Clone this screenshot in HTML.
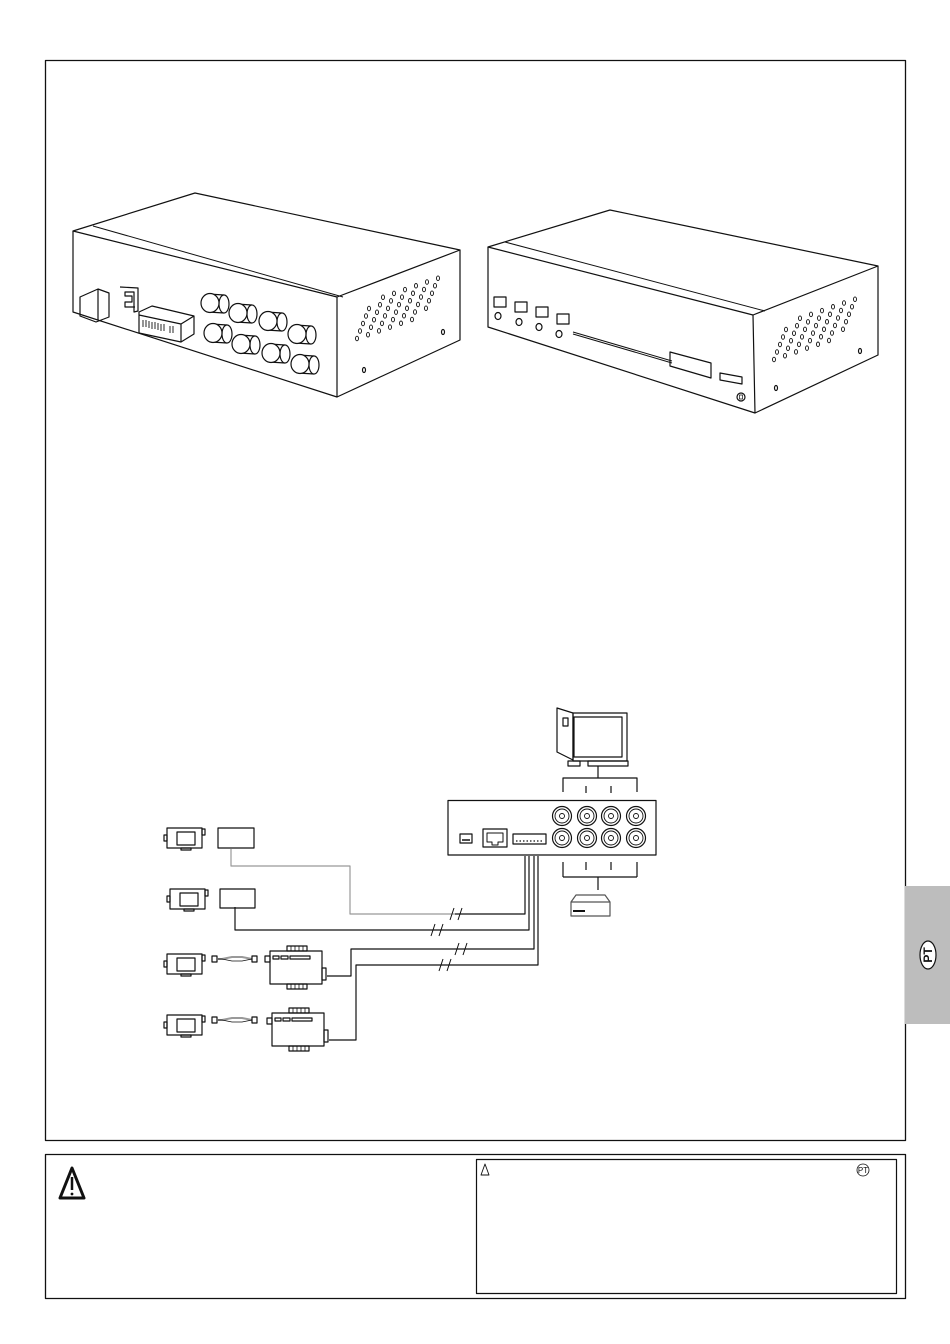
<!DOCTYPE html>
<html><head><meta charset="utf-8"><style>
html,body{margin:0;padding:0;background:#fff;}
svg{display:block;}
</style></head><body>
<svg id="s" width="950" height="1344" viewBox="0 0 950 1344" xmlns="http://www.w3.org/2000/svg" fill="none" stroke="#111" stroke-width="1.2" stroke-linejoin="round">
<rect x="45.5" y="60.5" width="860" height="1080" stroke-width="1.3"/>
<rect x="905" y="886" width="45" height="138" fill="#bdbdbd" stroke="none"/>
<ellipse cx="928" cy="955" rx="8" ry="14" fill="#fff" stroke="#111" stroke-width="1.2"/>
<text x="928" y="955" transform="rotate(-90 928 955)" text-anchor="middle" dominant-baseline="central" font-family="Liberation Sans, sans-serif" font-weight="bold" font-size="12" fill="#111" stroke="none">PT</text>
<rect x="45.5" y="1154.5" width="860" height="144" stroke-width="1.3"/>
<rect x="476.5" y="1159.5" width="420" height="134" stroke-width="1.2"/>
<path d="M60 1198 L72 1168 L84 1198 Z" stroke-width="3"/>
<line x1="72" y1="1177" x2="72" y2="1190" stroke-width="2.5"/>
<circle cx="72" cy="1194" r="1.4" fill="#111" stroke="none"/>
<path d="M481 1175 L485 1164 L489 1175 Z" stroke-width="0.9"/>
<circle cx="863" cy="1170" r="6" stroke-width="0.8"/>
<text x="863" y="1173" text-anchor="middle" font-family="Liberation Sans, sans-serif" font-size="8" fill="#111" stroke="none">PT</text>

<g id="d1">
<path d="M73 231 L195 193 L460 250 L337 297 Z"/>
<path d="M73 231 L73 312 L337 397 L337 297"/>
<path d="M337 397 L460 340 L460 250"/>
<path d="M93 226 L343 297" stroke-width="1"/>
<path d="M80 297 L98 289 L109 293 L109 317 L96 322 L80 316 Z M98 289 L98 320"/>
<path d="M120 287 L138 288 L138 311 L134 312 L134 292 L125 292 L125 296 L132 296 L132 302 L125 302 L125 307 L135 307"/>
<path d="M139 312 L152 306 L194 316 L194 334 L181 342 L139 333 Z M181 324 L181 342 M139 315 L181 324 L194 316"/>
<g stroke-width="0.9"><path d="M143 320v7M146 320v7M149 321v7M152 322v7M155 322v7M158 323v7M161 324v7M164 324v7M170 326v7M173 326v7"/></g>
<g id="bnc"></g>
<ellipse cx="364" cy="370" rx="1.5" ry="2.5"/>
<ellipse cx="443" cy="332" rx="1.5" ry="2.5"/>
</g>

<path d="M488 247 L610 210 L878 266 L753 315 Z"/>
<path d="M488 247 L488 327 L755 413 L753 315"/>
<path d="M755 413 L878 355 L878 266"/>
<path d="M505 242 L765 311" stroke-width="1"/>
<rect x="494" y="297" width="12" height="10"/><ellipse cx="498" cy="316" rx="3" ry="3.5"/>
<rect x="515" y="302" width="12" height="10"/><ellipse cx="519" cy="322" rx="3" ry="3.5"/>
<rect x="536" y="307" width="12" height="10"/><ellipse cx="539" cy="327" rx="3" ry="3.5"/>
<rect x="557" y="314" width="12" height="10"/><ellipse cx="559" cy="334" rx="3" ry="3.5"/>
<path d="M573 332 L672 361 M573 334 L672 363" stroke-width="1"/>
<path d="M670 352 L711 363 L711 378 L670 366 Z"/>
<path d="M720 373 L742 377 L742 384 L720 380 Z"/>
<circle cx="741" cy="397" r="4"/><rect x="739.5" y="395" width="3" height="4" stroke-width="0.7"/>
<ellipse cx="776" cy="388" rx="1.5" ry="2.5"/>
<ellipse cx="860" cy="351" rx="1.5" ry="2.5"/>
<g id="h1"></g>

<path d="M557 708 L573 713 L573 760 L557 752 Z"/>
<rect x="573" y="713" width="54" height="48"/>
<rect x="574" y="717" width="48" height="40"/>
<rect x="563" y="718" width="5" height="8"/>
<rect x="568" y="761" width="12" height="5"/>
<rect x="588" y="761" width="40" height="5"/>
<path d="M598 766 V778 M563 792 V778 H637 V792 M586 786 V793 M611 786 V793"/>
<rect x="448" y="800.5" width="208" height="54.5"/>
<rect x="460" y="834" width="12" height="9"/>
<path d="M462 840 h8" stroke-width="1.5"/>
<rect x="483" y="829" width="24" height="18"/>
<path d="M487 833 H503 V842 H498 V845 H492 V842 H487 Z" stroke-width="1"/>
<rect x="513" y="834" width="33" height="10"/>
<path d="M516 841 H544" stroke-dasharray="1.5 2" stroke-width="1.3"/>
<g id="bncs"></g>
<path d="M563 862 V877 M637 862 V877 M586 862 V870 M611 862 V870 M563 877 H637 M598 877 V890"/>
<path d="M571 916 V902 L576 895 H605 L610 902 V916 Z M571 902 H610" stroke="#555"/>
<rect x="573" y="910" width="12" height="2" fill="#111" stroke="none"/>
<path d="M231 849 V866 H350 V914 H455" stroke="#999"/>
<path d="M455 914 H525 V856"/>
<path d="M235 907 V930 H529 V856"/>
<path d="M327 976 H351 V949 H534 V856"/>
<path d="M329 1040 H356 V965 H538 V856"/>
<g stroke-width="1">
<path d="M450 920 L454 908 M458 920 L462 908"/>
<path d="M431 936 L435 924 M439 936 L443 924"/>
<path d="M455 955 L459 943 M463 955 L467 943"/>
<path d="M439 971 L443 959 M447 971 L451 959"/>
</g>
<g id="cams"></g>
<rect x="218" y="828" width="36" height="20"/>
<rect x="220" y="889" width="35" height="19"/>
</svg>
<script>
var NS="http://www.w3.org/2000/svg";
function el(p,t,a){var e=document.createElementNS(NS,t);for(var k in a)e.setAttribute(k,a[k]);p.appendChild(e);return e;}
function holes(g,x0,y0){for(var r=0;r<6;r++)for(var c=0;c<7;c++){if((r==0&&c<1)||(r==5&&c>5))continue;el(g,"ellipse",{cx:x0+c*11-r*3,cy:y0-c*3.8+r*7.5,rx:1.5,ry:2.3,"stroke-width":0.9});}}
holes(document.getElementById("bnc"),372,301);
holes(document.getElementById("h1"),789,322);
var b=document.getElementById("bnc");
var pos=[[210,303],[238,313],[268,321],[297,334],[213,333],[241,344],[271,353],[300,364]];
pos.forEach(function(p){var x=p[0],y=p[1];
el(b,"path",{d:"M"+(x-2)+" "+(y-9)+" L"+(x+14)+" "+(y-8)+" M"+(x-2)+" "+(y+9)+" L"+(x+14)+" "+(y+10),fill:"none"});
el(b,"ellipse",{cx:x+14,cy:y+1,rx:5,ry:9,fill:"#fff"});
el(b,"ellipse",{cx:x,cy:y,rx:9,ry:9.5,fill:"#fff"});});
var g=document.getElementById("bncs");
[562,587,611,636].forEach(function(x){[816,838].forEach(function(y){
el(g,"circle",{cx:x,cy:y,r:9.5});el(g,"circle",{cx:x,cy:y,r:7,"stroke-width":0.9});el(g,"circle",{cx:x,cy:y,r:2.5,"stroke-width":0.9});});});
var c=document.getElementById("cams");
function cam(x,y){el(c,"rect",{x:x,y:y,width:35,height:20});el(c,"rect",{x:x+10,y:y+4,width:18,height:13});
el(c,"rect",{x:x-3,y:y+7,width:3,height:6});el(c,"rect",{x:x+35,y:y+1,width:3,height:6});el(c,"rect",{x:x+14,y:y+20,width:10,height:2});}
cam(167,828);cam(170,889);cam(167,954);cam(167,1015);
function unit(x,y,cy){
el(c,"rect",{x:212,y:cy,width:5,height:6});el(c,"path",{d:"M217 "+(cy+3)+" L222 "+(cy+3)+" L232 "+(cy+1)+" H242 L252 "+(cy+3),stroke:"#999","stroke-width":2});
el(c,"path",{d:"M217 "+(cy+3)+" L222 "+(cy+3)+" L232 "+(cy+5)+" H242 L252 "+(cy+3),"stroke-width":0.8});
el(c,"rect",{x:252,y:cy,width:5,height:6});
el(c,"rect",{x:x,y:y,width:52,height:33});el(c,"rect",{x:x-5,y:y+5,width:5,height:6});
el(c,"rect",{x:x+17,y:y-5,width:20,height:5});el(c,"rect",{x:x+17,y:y+33,width:20,height:5});
el(c,"path",{d:"M"+(x+21)+" "+(y-5)+"v5M"+(x+25)+" "+(y-5)+"v5M"+(x+29)+" "+(y-5)+"v5M"+(x+33)+" "+(y-5)+"v5M"+(x+21)+" "+(y+33)+"v5M"+(x+25)+" "+(y+33)+"v5M"+(x+29)+" "+(y+33)+"v5M"+(x+33)+" "+(y+33)+"v5","stroke-width":0.8});
el(c,"rect",{x:x+3,y:y+5,width:6,height:3});el(c,"rect",{x:x+11,y:y+5,width:7,height:3});el(c,"rect",{x:x+20,y:y+5,width:20,height:3});
el(c,"rect",{x:x+52,y:y+17,width:4,height:12});}
unit(270,951,956);unit(272,1013,1017);
</script>
</body></html>
